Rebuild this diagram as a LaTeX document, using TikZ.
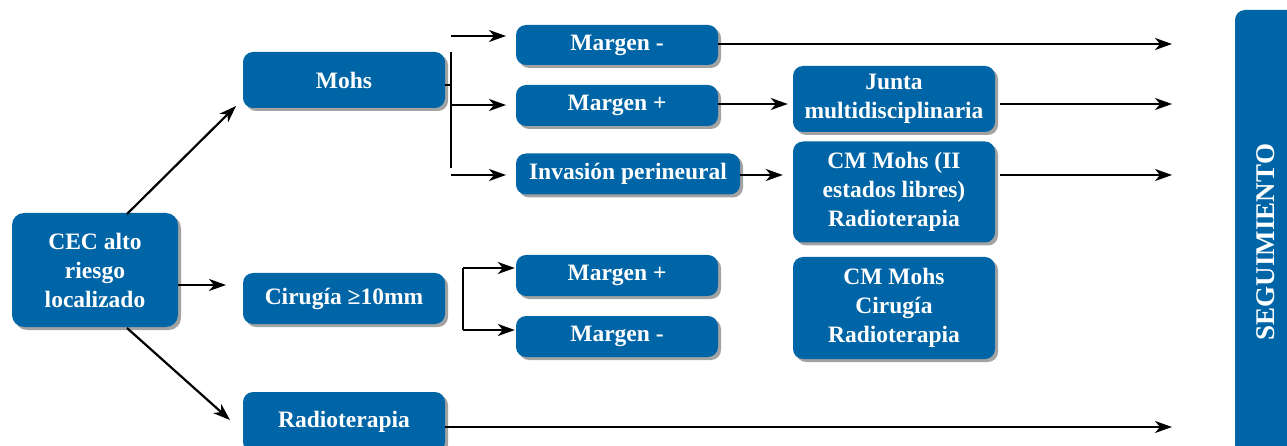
\documentclass[tikz,border=0pt]{standalone}
\usepackage{fontspec}
\setmainfont{Liberation Serif}
\usetikzlibrary{arrows.meta,shadows}
\definecolor{boxblue}{RGB}{0,101,166}
\tikzset{
  box/.style={fill=boxblue, rounded corners=10pt, text=white, align=center,
    inner sep=0pt, font=\fontsize{23.5}{29}\selectfont\bfseries,
    drop shadow={shadow xshift=3pt, shadow yshift=-3pt, fill=black!45, opacity=0.8}},
  conn/.style={line width=2.2pt, draw=black},
  arr/.style={conn, -{Stealth[length=17pt,width=12pt,inset=5pt]}}
}
\begin{document}
\begin{tikzpicture}[x=1pt,y=-1pt]
\useasboundingbox (0,0) rectangle (1287,446);
% boxes
\node[box, rounded corners=12pt, minimum width=166pt, minimum height=114pt] (cec) at (95,270) {CEC alto\\riesgo\\localizado};
\node[box, minimum width=202pt, minimum height=56pt] (mohs) at (344,80) {Mohs};
\node[box, minimum width=202pt, minimum height=51pt] (cir) at (344,298.5) {Cirugía ≥10mm};
\node[box, minimum width=202pt, minimum height=60pt] (radio) at (344,422) {Radioterapia};
\node[box, minimum width=202pt, minimum height=40pt] (mneg1) at (617,45) {Margen -};
\node[box, minimum width=202pt, minimum height=41pt] (mpos1) at (617,105.5) {Margen +};
\node[box, minimum width=224pt, minimum height=41pt] (inv) at (628,174) {Invasión perineural};
\node[box, minimum width=202pt, minimum height=41pt] (mpos2) at (617,275.5) {Margen +};
\node[box, minimum width=202pt, minimum height=41pt] (mneg2) at (617,336.5) {Margen -};
\node[box, minimum width=202pt, minimum height=66pt] (junta) at (894,99) {Junta\\multidisciplinaria};
\node[box, minimum width=202pt, minimum height=101pt] (cm1) at (894,192) {CM Mohs (II\\estados libres)\\Radioterapia};
\node[box, minimum width=202pt, minimum height=102pt] (cm2) at (894,308) {CM Mohs\\Cirugía\\Radioterapia};
\node[box, minimum width=62pt, minimum height=446pt] (seg) at (1266,233) {};
\node[text=white, font=\fontsize{27}{30}\selectfont\bfseries, rotate=90] (segt) at (1266,242) {SEGUIMIENTO};
% coordinates
\coordinate (c1) at (127,214); \coordinate (m1) at (236,106);
\coordinate (c2) at (178,285); \coordinate (m2) at (226,285);
\coordinate (c3) at (127,328); \coordinate (m3) at (230,420);
\coordinate (bj) at (451,85);
\coordinate (bt) at (451,52); \coordinate (bb) at (451,168);
\coordinate (t1) at (451,36); \coordinate (u1) at (506,36);
\coordinate (t2) at (451,105); \coordinate (u2) at (506,105);
\coordinate (t3) at (451,175); \coordinate (u3) at (506,175);
\coordinate (e1) at (1172,44); \coordinate (e2) at (1172,104);
\coordinate (e3) at (1172,175); \coordinate (e4) at (1172,427);
\coordinate (k1) at (463,268); \coordinate (k2) at (463,330);
% connectors
\draw[arr] (c1) -- (m1);
\draw[arr] (c2) -- (m2);
\draw[arr] (c3) -- (m3);
\draw[conn] (mohs.east |- bj) -- (bj);
\draw[conn] (bt) -- (bb);
\draw[arr] (t1) -- (u1);
\draw[arr] (t2) -- (u2);
\draw[arr] (t3) -- (u3);
\draw[arr] (mneg1.east |- e1) -- (e1);
\draw[arr] (mpos1.east |- 0,104) -- ([xshift=-5pt]junta.west |- 0,104);
\draw[arr] ([xshift=5pt]junta.east |- e2) -- (e2);
\draw[arr] (inv.east |- e3) -- ([xshift=-10pt]cm1.west |- e3);
\draw[arr] ([xshift=5pt]cm1.east |- e3) -- (e3);
\draw[arr] (radio.east |- e4) -- (e4);
\draw[conn] (k1) -- (k2);
\draw[arr] (k1) -- ([xshift=-1pt]mpos2.west |- k1);
\draw[arr] (k2) -- ([xshift=-1pt]mneg2.west |- k2);
\end{tikzpicture}
\end{document}
